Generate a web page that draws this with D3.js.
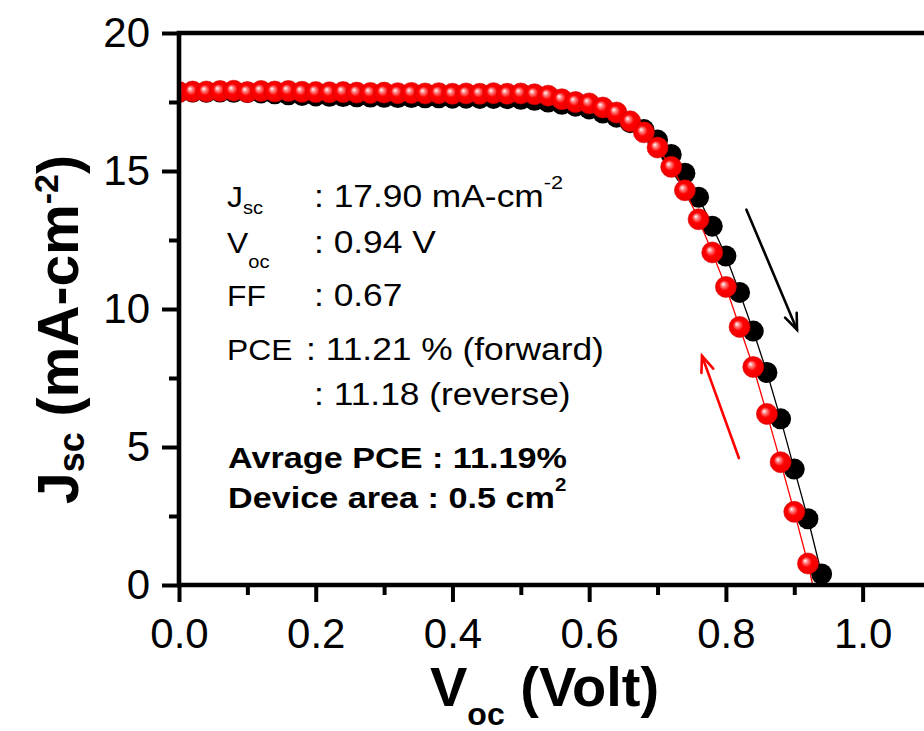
<!DOCTYPE html>
<html>
<head>
<meta charset="utf-8">
<script src="https://cdn.jsdelivr.net/npm/d3@7"></script>
<style>
  body { margin: 0; background: #fff; }
  svg { display: block; font-family: "Liberation Sans", Arial, sans-serif; }
</style>
</head>
<body>
<div id="viz"></div>
<script>
// forward scan (black)
let vFwd = [0.00, 0.02, 0.04, 0.06, 0.08, 0.10, 0.12, 0.14, 0.16, 0.18,
  0.20, 0.22, 0.24, 0.26, 0.28, 0.30, 0.32, 0.34, 0.36, 0.38,
  0.40, 0.42, 0.44, 0.46, 0.48, 0.50, 0.52, 0.54, 0.56, 0.58,
  0.60, 0.62, 0.64, 0.66, 0.68, 0.70, 0.72, 0.74, 0.76, 0.78,
  0.80, 0.82, 0.84, 0.86, 0.88, 0.90, 0.92, 0.94]
let jFwd = [17.85, 17.86, 17.85, 17.86, 17.85, 17.84, 17.83, 17.80, 17.76, 17.74,
  17.72, 17.71, 17.70, 17.69, 17.68, 17.67, 17.66, 17.66, 17.65, 17.65,
  17.64, 17.64, 17.63, 17.63, 17.62, 17.60, 17.56, 17.50, 17.42, 17.35,
  17.25, 17.10, 16.95, 16.75, 16.50, 16.12, 15.60, 14.92, 14.05, 13.00,
  11.92, 10.60, 9.20, 7.70, 6.02, 4.20, 2.40, 0.40]

// reverse scan (red)
let vRev = [0.00, 0.02, 0.04, 0.06, 0.08, 0.10, 0.12, 0.14, 0.16, 0.18,
  0.20, 0.22, 0.24, 0.26, 0.28, 0.30, 0.32, 0.34, 0.36, 0.38,
  0.40, 0.42, 0.44, 0.46, 0.48, 0.50, 0.52, 0.54, 0.56, 0.58,
  0.60, 0.62, 0.64, 0.66, 0.68, 0.70, 0.72, 0.74, 0.76, 0.78,
  0.80, 0.82, 0.84, 0.86, 0.88, 0.90, 0.92]
let jRev = [17.86, 17.88, 17.88, 17.90, 17.91, 17.86, 17.90, 17.88, 17.90, 17.87,
  17.86, 17.85, 17.86, 17.84, 17.83, 17.84, 17.82, 17.83, 17.81, 17.82,
  17.80, 17.81, 17.80, 17.82, 17.80, 17.81, 17.78, 17.73, 17.60, 17.50,
  17.45, 17.30, 17.12, 16.80, 16.40, 15.85, 15.15, 14.30, 13.25, 12.05,
  10.80, 9.35, 7.90, 6.20, 4.45, 2.65, 0.78]

// where each line meets the x axis
let vocFwd = 0.945
let vocRev = 0.927

// scan direction arrows [tail, tip] in (V, J)
let arrowFwd = [[0.830, 13.6], [0.904, 9.25]]
let arrowRev = [[0.819, 4.6], [0.765, 8.3]]

let xTicks = [0.0, 0.2, 0.4, 0.6, 0.8, 1.0]
let xMinor = [0.1, 0.3, 0.5, 0.7, 0.9, 1.1]
let yTicks = [0, 5, 10, 15, 20]
let yMinor = [2.5, 7.5, 12.5, 17.5]

let w = 924;
let h = 731;
let padLeft = 179, padRight = 931, padTop = 33, padBottom = 585;

const svg = d3.select("#viz")
  .append("svg")
  .attr("width", w)
  .attr("height", h);

const xScale = d3.scaleLinear()
  .domain([0, 1.1])
  .range([padLeft, padRight]);

const yScale = d3.scaleLinear()
  .domain([0, 20])
  .range([padBottom, padTop]);

let defs = svg.append("defs")

defs.append("clipPath")
  .attr("id", "plotClip")
  .append("rect")
  .attr("x", padLeft)
  .attr("y", padTop)
  .attr("width", padRight - padLeft)
  .attr("height", padBottom - padTop)

let redGrad = defs.append("radialGradient")
  .attr("id", "redBall")
  .attr("cx", "0.5").attr("cy", "0.5").attr("r", "0.5")
  .attr("fx", "0.36").attr("fy", "0.36")
redGrad.append("stop").attr("offset", "0").attr("stop-color", "#ffffff")
redGrad.append("stop").attr("offset", "0.22").attr("stop-color", "#ff8080")
redGrad.append("stop").attr("offset", "0.5").attr("stop-color", "#ff0000")
redGrad.append("stop").attr("offset", "1").attr("stop-color", "#f00000")

let fwdData = vFwd.map((v, i) => ({x: v, y: jFwd[i]}))
let revData = vRev.map((v, i) => ({x: v, y: jRev[i]}))

let line = d3.line()
  .x(d => xScale(d.x))
  .y(d => yScale(d.y))

let indRadius = 10.5;
let plotGroup = svg.append("g").attr("clip-path", "url(#plotClip)")

// forward: line then symbols
plotGroup.append("path")
  .datum(fwdData.concat([{x: vocFwd, y: 0}]))
  .attr("d", line)
  .attr("fill", "none")
  .attr("stroke", "black")
  .attr("stroke-width", 1.3)

plotGroup.append("g").selectAll("circle")
  .data(fwdData)
  .enter()
  .append("circle")
  .attr("cx", d => xScale(d.x))
  .attr("cy", d => yScale(d.y))
  .attr("r", indRadius)
  .style("fill", "black")

// reverse: line then symbols
plotGroup.append("path")
  .datum(revData.concat([{x: vocRev, y: 0}]))
  .attr("d", line)
  .attr("fill", "none")
  .attr("stroke", "#ff0000")
  .attr("stroke-width", 1.3)

plotGroup.append("g").selectAll("circle")
  .data(revData)
  .enter()
  .append("circle")
  .attr("cx", d => xScale(d.x))
  .attr("cy", d => yScale(d.y))
  .attr("r", indRadius)
  .attr("stroke", "#d80000")
  .attr("stroke-width", 0.6)
  .style("fill", "url(#redBall)")

// arrows
let drawArrow = function (pts, color) {
  let x1 = xScale(pts[0][0]), y1 = yScale(pts[0][1])
  let x2 = xScale(pts[1][0]), y2 = yScale(pts[1][1])
  let ang = Math.atan2(y2 - y1, x2 - x1)
  let len = 17, spread = 0.38
  let g = svg.append("g")
    .attr("stroke", color)
    .attr("stroke-width", 2.6)
    .attr("fill", "none")
    .attr("stroke-linecap", "round")
  g.append("line")
    .attr("x1", x1).attr("y1", y1)
    .attr("x2", x2).attr("y2", y2)
  g.append("polyline")
    .attr("stroke-linejoin", "miter")
    .attr("points", [
      [x2 - len * Math.cos(ang - spread), y2 - len * Math.sin(ang - spread)],
      [x2, y2],
      [x2 - len * Math.cos(ang + spread), y2 - len * Math.sin(ang + spread)]
    ].map(p => p.join(",")).join(" "))
}
drawArrow(arrowFwd, "black")
drawArrow(arrowRev, "#ff0000")

let axisGroup = svg.append("g")

// minor ticks
axisGroup.append("g")
  .attr("transform", `translate(0,${padBottom})`)
  .call(d3.axisBottom(xScale).tickValues(xMinor).tickSize(10).tickSizeOuter(0).tickFormat(""))
axisGroup.append("g")
  .attr("transform", `translate(${padLeft},0)`)
  .call(d3.axisLeft(yScale).tickValues(yMinor).tickSize(10).tickSizeOuter(0).tickFormat(""))

// add x axis
let xAxis = axisGroup.append("g")
  .attr("transform", `translate(0,${padBottom})`)
  .call(d3.axisBottom(xScale).tickValues(xTicks).tickSize(17).tickSizeOuter(0)
    .tickPadding(6).tickFormat(d3.format(".1f")))

// add y axis
let yAxis = axisGroup.append("g")
  .attr("transform", `translate(${padLeft},0)`)
  .call(d3.axisLeft(yScale).tickValues(yTicks).tickSize(17).tickSizeOuter(0)
    .tickPadding(12).tickFormat(d3.format("d")))

axisGroup.selectAll(".domain").remove()
axisGroup.selectAll(".tick line")
  .attr("stroke", "black")
  .attr("stroke-width", 4)

xAxis.selectAll("text")
  .attr("font-size", 42)
  .attr("font-family", "Liberation Sans, Arial, sans-serif")
  .attr("fill", "black")
  .attr("dy", null)
  .attr("y", 63)

yAxis.selectAll("text")
  .attr("font-size", 42)
  .attr("font-family", "Liberation Sans, Arial, sans-serif")
  .attr("fill", "black")
  .attr("x", -29)
  .attr("dy", "0.32em")

// frame
let frame = svg.append("g")
  .attr("stroke", "black")
  .attr("stroke-width", 4.6)
  .attr("fill", "none")
  .attr("stroke-linecap", "square")
frame.append("path")
  .attr("d", `M${padRight},${padBottom} L${padLeft},${padBottom} L${padLeft},${padTop} L${padRight},${padTop} Z`)

// annotation block
let ann = svg.append("g").attr("fill", "black")

let rowLabels = [
  {main: "J", sub: "sc", y: 207},
  {main: "V", sub: "oc", y: 253},
  {main: "FF", sub: "", y: 306},
  {main: "PCE", sub: "", y: 360},
  {main: "", sub: "", y: 405}
]
let rowValues = [": 17.90 mA-cm", ": 0.94 V", ": 0.67", ": 11.21 % (forward)", ": 11.18 (reverse)"]
let colonX = [314, 314, 314, 306, 314]

rowLabels.forEach((r, i) => {
  let t = ann.append("g")
    .attr("transform", `translate(227,${r.y}) scale(1.06,1)`)
    .append("text")
    .attr("font-size", 30)
  t.append("tspan").text(r.main)
  if (r.sub) {
    t.append("tspan")
      .attr("font-size", 19)
      .attr("dy", r.main == "J" ? 7 : 15)
      .text(r.sub)
  }
  let v = ann.append("g")
    .attr("transform", `translate(${colonX[i]},${r.y}) scale(1.14,1)`)
    .append("text")
    .attr("font-size", 31)
  v.append("tspan").text(rowValues[i])
  if (i == 0) {
    v.append("tspan")
      .attr("font-size", 19)
      .attr("dy", -18)
      .text("-2")
  }
})

let bold1 = ann.append("g")
  .attr("transform", "translate(228,468) scale(1.14,1)")
  .append("text")
  .attr("font-size", 30)
  .attr("font-weight", "bold")
  .text("Avrage PCE : 11.19%")

let bold2 = ann.append("g")
  .attr("transform", "translate(228,508) scale(1.14,1)")
  .append("text")
  .attr("font-size", 30)
  .attr("font-weight", "bold")
bold2.append("tspan").text("Device area : 0.5 cm")
bold2.append("tspan").attr("font-size", 18).attr("dy", -17).text("2")

// axis titles
let xTitle = svg.append("text")
  .attr("x", 430)
  .attr("y", 706)
  .attr("font-size", 56)
  .attr("font-weight", "bold")
xTitle.append("tspan").text("V")
xTitle.append("tspan").attr("font-size", 32).attr("dy", 19).text("oc")
xTitle.append("tspan").attr("dy", -19).text(" (Volt)")

let yTitle = svg.append("text")
  .attr("transform", "translate(78,504) rotate(-90)")
  .attr("font-size", 57)
  .attr("font-weight", "bold")
yTitle.append("tspan").text("J")
yTitle.append("tspan").attr("font-size", 36).attr("dy", 6).text("sc")
yTitle.append("tspan").attr("dy", -6).text(" (mA-cm")
yTitle.append("tspan").attr("font-size", 34).attr("dy", -20).text("-2")
yTitle.append("tspan").attr("dy", 20).text(")")
</script>
</body>
</html>
